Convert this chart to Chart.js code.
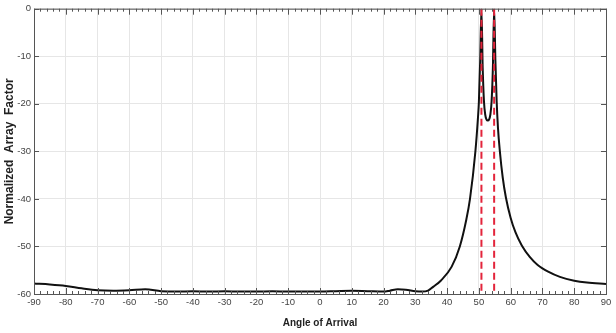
<!DOCTYPE html>
<html>
<head>
<meta charset="utf-8">
<script src="https://cdn.jsdelivr.net/npm/chart.js@4/dist/chart.umd.min.js"></script>
<style>
  html, body { margin: 0; padding: 0; background: #fff; }
  #wrap { width: 616px; height: 333px; }
</style>
</head>
<body>
<div id="wrap"><canvas id="c" width="616" height="333"></canvas></div>
<script>
// angle of arrival (deg) and normalized array factor (dB)
const angles = [
  -90, -85, -80, -75, -70, -65, -60, -55, -50, -45, -40, -35, -30, -25, -20,
  -15, -10, -5, 0, 5, 10, 15, 20, 22, 24.5, 27, 30, 32, 34, 35.6, 38, 41.4,
  44, 46, 47.2, 48.9, 49.7, 50.0, 50.4, 50.8, 51.2, 51.6, 52.0, 52.4, 52.8,
  53.2, 53.6, 54.0, 54.4, 54.8, 55.2, 55.6, 56.0, 56.6, 57.5, 58.5, 60, 61.5,
  63.5, 66, 68.5, 71.8, 75.5, 80, 84, 90,
];
const arrayFactor = [
  -57.8, -58.0, -58.3, -58.8, -59.2, -59.3, -59.2, -59.0, -59.4, -59.5, -59.4,
  -59.5, -59.4, -59.5, -59.5, -59.4, -59.5, -59.5, -59.5, -59.4, -59.3, -59.4,
  -59.5, -59.3, -59.0, -59.1, -59.4, -59.5, -59.3, -58.5, -57.2, -54.3, -50,
  -44.5, -40, -30, -23, -19.6, -11, 0, -12.5, -19.5, -22.3, -23.3, -23.5,
  -23.3, -22.3, -19.5, -12.5, 0, -11, -19.6, -25, -30, -35.5, -39.7, -44,
  -47, -49.8, -52.2, -53.9, -55.3, -56.4, -57.2, -57.6, -57.9,
];
// true source directions (red dashed markers)
const sourceAngles = [50.8, 54.8];
const yTicks = [0, -10, -20, -30, -40, -50, -60];

const sourceLines = sourceAngles.map((a) => ({
  data: [{ x: a, y: 0 }, { x: a, y: -60 }],
  borderColor: "#e3243b",
  borderWidth: 2,
  borderDash: [7, 4],
  pointRadius: 0,
  tension: 0,
}));

// box + inward ticks like the matlab axes
const frame = {
  id: "frame",
  afterDraw(chart) {
    const { ctx, chartArea: a, scales } = chart;
    const xs = scales.x, ys = scales.y;
    ctx.save();
    ctx.strokeStyle = "#555";
    ctx.lineWidth = 1;
    for (let v = -90; v <= 90; v += 2) {
      const px = Math.round(xs.getPixelForValue(v)) + 0.5;
      const len = v % 10 === 0 ? 6 : 3;
      ctx.beginPath();
      ctx.moveTo(px, a.bottom);
      ctx.lineTo(px, a.bottom - len);
      ctx.moveTo(px, a.top);
      ctx.lineTo(px, a.top + len);
      ctx.stroke();
    }
    yTicks.forEach((v) => {
      const py = Math.round(ys.getPixelForValue(v)) + 0.5;
      ctx.beginPath();
      ctx.moveTo(a.left, py);
      ctx.lineTo(a.left + 5, py);
      ctx.moveTo(a.right, py);
      ctx.lineTo(a.right - 5, py);
      ctx.stroke();
    });
    ctx.strokeRect(a.left + 0.5, a.top + 0.5, a.right - a.left, a.bottom - a.top);
    ctx.restore();
  },
};

const tickFont = { family: "'Liberation Sans Narrow', 'Liberation Sans', Arial, sans-serif", size: 9.5 };
const titleFont = { family: "'Liberation Sans', Arial, sans-serif", size: 10, weight: "bold" };

new Chart(document.getElementById("c").getContext("2d"), {
  type: "line",
  data: {
    datasets: [
      ...sourceLines,
      {
        data: angles.map((x, i) => ({ x, y: arrayFactor[i] })),
        borderColor: "#111",
        borderWidth: 2,
        pointRadius: 0,
        cubicInterpolationMode: "monotone",
      },
    ],
  },
  options: {
    animation: false,
    responsive: false,
    clip: true,
    layout: { padding: { top: 0, right: 10, left: 0, bottom: 0 } },
    plugins: { legend: { display: false }, tooltip: { enabled: false } },
    scales: {
      x: {
        type: "linear",
        min: -90,
        max: 90,
        ticks: { stepSize: 10, color: "#444", font: tickFont, padding: 3, maxRotation: 0 },
        grid: { color: "#e6e6e6", drawTicks: false },
        border: { display: false },
        title: { display: true, text: "Angle of Arrival", color: "#222", font: titleFont, padding: { top: 4 } },
        afterFit: (s) => { s.height = 39; },
      },
      y: {
        min: -60,
        max: 0,
        ticks: { stepSize: 10, color: "#444", font: tickFont, padding: 3 },
        grid: { color: "#e6e6e6", drawTicks: false },
        border: { display: false },
        title: {
          display: true,
          text: "Normalized  Array  Factor",
          color: "#222",
          font: { ...titleFont, size: 12 },
          padding: { top: 2, bottom: 2 },
        },
        afterFit: (s) => { s.width = 34; },
      },
    },
  },
  plugins: [frame],
});
</script>
</body>
</html>
